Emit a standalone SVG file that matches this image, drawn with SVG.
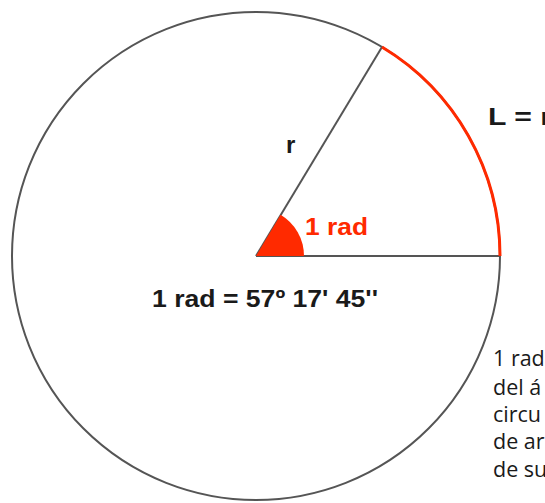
<svg xmlns="http://www.w3.org/2000/svg" width="545" height="503" viewBox="0 0 545 503">
<style>
.ln{fill:none;stroke:#555;stroke-width:2}
.b{font-family:"Liberation Sans",Arial,sans-serif;font-weight:bold;font-size:24px;fill:#1a1a1a}
.red{fill:#ff2a00}
.t{font-family:"Open Sans","Noto Sans",sans-serif;font-size:21.5px;fill:#1a1a1a}
</style>
<rect width="545" height="503" fill="#fff"/>
<g id="circle">
<circle class="ln" cx="256" cy="256" r="244"/>
</g>
<g id="connectors">
<line class="ln" x1="256" y1="256" x2="500" y2="256"/>
<line class="ln" x1="256" y1="256" x2="382" y2="47"/>
</g>
<g id="sector">
<path class="red" d="M256 256 L304 256 A48 48 0 0 0 280.6 214.8 Z"/>
</g>
<g id="arc">
<path d="M382 47 A244 244 0 0 1 500 256" fill="none" stroke="#ff2a00" stroke-width="3"/>
</g>
<g id="labels">
<text class="b" x="286" y="153">r</text>
<text class="b" x="305" y="235" textLength="63" lengthAdjust="spacingAndGlyphs" style="fill:#ff2a00">1 rad</text>
<text class="b" x="488" y="125" textLength="64" lengthAdjust="spacingAndGlyphs">L = r</text>
<text class="b" x="152" y="307" textLength="226" lengthAdjust="spacingAndGlyphs">1 rad = 57º 17' 45''</text>
</g>
<g id="note">
<text class="t" x="493" y="366">1 rad</text>
<text class="t" x="493" y="395">del á</text>
<text class="t" x="493" y="422">circu</text>
<text class="t" x="493" y="449">de ar</text>
<text class="t" x="493" y="477">de su</text>
</g>
</svg>
